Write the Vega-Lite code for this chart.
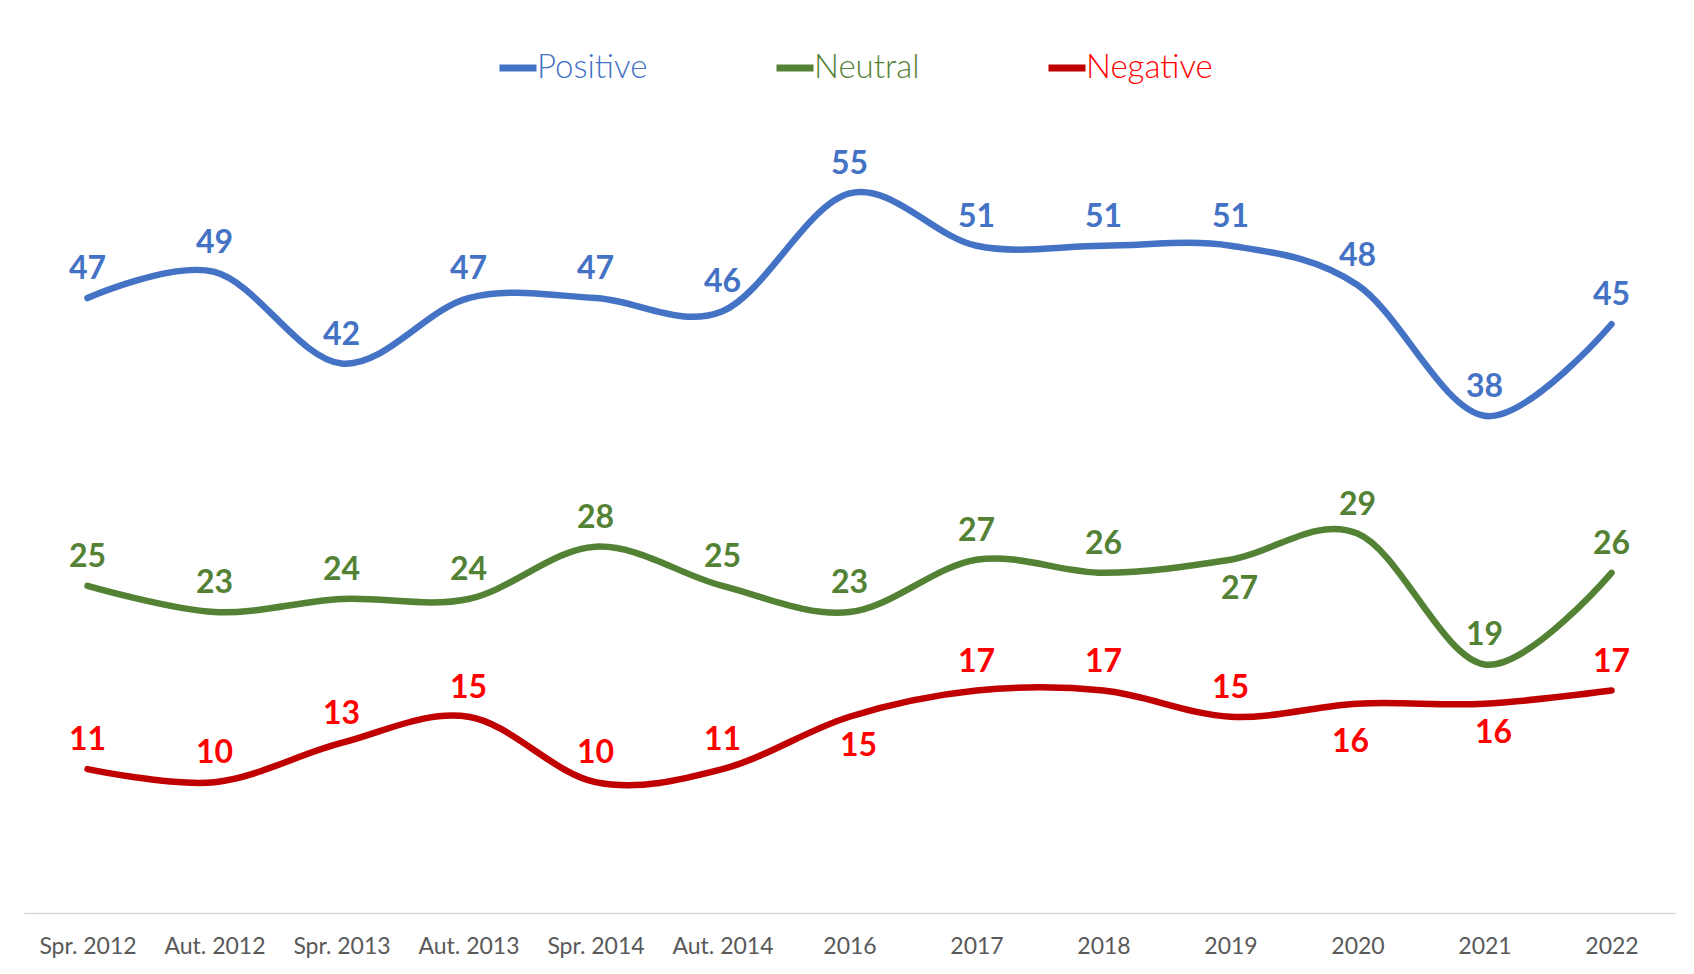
{
  "$schema": "https://vega.github.io/schema/vega-lite/v6.json",
  "width": 1651,
  "height": 785,
  "autosize": {"type": "none"},
  "padding": {"left": 24, "top": 128, "right": 19, "bottom": 61},
  "background": "white",
  "config": {
    "view": {"stroke": null},
    "font": "Lato"
  },
  "data": {
    "values": [
      {"period": "Spr. 2012", "series": "Positive", "value": 47},
      {"period": "Aut. 2012", "series": "Positive", "value": 49},
      {"period": "Spr. 2013", "series": "Positive", "value": 42},
      {"period": "Aut. 2013", "series": "Positive", "value": 47},
      {"period": "Spr. 2014", "series": "Positive", "value": 47},
      {"period": "Aut. 2014", "series": "Positive", "value": 46},
      {"period": "2016", "series": "Positive", "value": 55},
      {"period": "2017", "series": "Positive", "value": 51},
      {"period": "2018", "series": "Positive", "value": 51},
      {"period": "2019", "series": "Positive", "value": 51},
      {"period": "2020", "series": "Positive", "value": 48},
      {"period": "2021", "series": "Positive", "value": 38},
      {"period": "2022", "series": "Positive", "value": 45},
      {"period": "Spr. 2012", "series": "Neutral", "value": 25},
      {"period": "Aut. 2012", "series": "Neutral", "value": 23},
      {"period": "Spr. 2013", "series": "Neutral", "value": 24},
      {"period": "Aut. 2013", "series": "Neutral", "value": 24},
      {"period": "Spr. 2014", "series": "Neutral", "value": 28},
      {"period": "Aut. 2014", "series": "Neutral", "value": 25},
      {"period": "2016", "series": "Neutral", "value": 23},
      {"period": "2017", "series": "Neutral", "value": 27},
      {"period": "2018", "series": "Neutral", "value": 26},
      {"period": "2019", "series": "Neutral", "value": 27},
      {"period": "2020", "series": "Neutral", "value": 29},
      {"period": "2021", "series": "Neutral", "value": 19},
      {"period": "2022", "series": "Neutral", "value": 26},
      {"period": "Spr. 2012", "series": "Negative", "value": 11},
      {"period": "Aut. 2012", "series": "Negative", "value": 10},
      {"period": "Spr. 2013", "series": "Negative", "value": 13},
      {"period": "Aut. 2013", "series": "Negative", "value": 15},
      {"period": "Spr. 2014", "series": "Negative", "value": 10},
      {"period": "Aut. 2014", "series": "Negative", "value": 11},
      {"period": "2016", "series": "Negative", "value": 15},
      {"period": "2017", "series": "Negative", "value": 17},
      {"period": "2018", "series": "Negative", "value": 17},
      {"period": "2019", "series": "Negative", "value": 15},
      {"period": "2020", "series": "Negative", "value": 16},
      {"period": "2021", "series": "Negative", "value": 16},
      {"period": "2022", "series": "Negative", "value": 17}
    ]
  },
  "encoding": {
    "x": {
      "field": "period",
      "type": "ordinal",
      "sort": null,
      "scale": {"type": "point", "padding": 0.5},
      "axis": {
        "title": null,
        "labelAngle": 0,
        "ticks": false,
        "domainColor": "#D9D9D9",
        "domainWidth": 1.5,
        "labelColor": "#595959",
        "labelFont": "Lato",
        "labelFontSize": 23,
        "labelPadding": 22,
        "grid": false
      }
    },
    "y": {
      "field": "value",
      "type": "quantitative",
      "scale": {"domain": [0, 60], "nice": false},
      "axis": null
    }
  },
  "resolve": {"scale": {"color": "independent"}},
  "layer": [
    {
      "mark": {"type": "line", "interpolate": "cardinal", "tension": 0, "strokeWidth": 6.5, "strokeCap": "round", "strokeJoin": "round"},
      "encoding": {
        "color": {
          "field": "series",
          "type": "nominal",
          "sort": ["Positive", "Neutral", "Negative"],
          "scale": {"domain": ["Positive", "Neutral", "Negative"], "range": ["#4472C4", "#548235", "#C00000"]},
          "legend": {
            "title": null,
            "orient": "none",
            "direction": "horizontal",
            "legendX": 472,
            "legendY": -82,
            "symbolType": "stroke",
            "symbolStrokeWidth": 7,
            "symbolSize": 1369,
            "labelFont": "Lato",
            "labelFontSize": 33,
            "labelFontWeight": 300,
            "labelOffset": -3,
            "columnPadding": 114,
            "labelLimit": 300,
            "encode": {
              "labels": {
                "update": {
                  "fill": {"signal": "datum.label == 'Positive' ? '#4472C4' : datum.label == 'Neutral' ? '#548235' : '#FF0000'"}
                }
              }
            }
          }
        }
      }
    },
    {
      "transform": [
        {"filter": "!((datum.series == 'Neutral' && datum.period == '2019') || (datum.series == 'Negative' && (datum.period == '2016' || datum.period == '2020' || datum.period == '2021')))"}
      ],
      "mark": {"type": "text", "font": "Lato", "fontWeight": "bold", "fontSize": 32, "baseline": "middle", "dy": -29},
      "encoding": {
        "text": {"field": "value", "type": "quantitative"},
        "color": {
          "field": "series",
          "type": "nominal",
          "scale": {"domain": ["Positive", "Neutral", "Negative"], "range": ["#4472C4", "#548235", "#FF0000"]},
          "legend": null
        }
      }
    },
    {
      "transform": [
        {"filter": "(datum.series == 'Neutral' && datum.period == '2019') || (datum.series == 'Negative' && (datum.period == '2016' || datum.period == '2021'))"}
      ],
      "mark": {"type": "text", "font": "Lato", "fontWeight": "bold", "fontSize": 32, "baseline": "middle", "dy": 29, "dx": 9},
      "encoding": {
        "text": {"field": "value", "type": "quantitative"},
        "color": {
          "field": "series",
          "type": "nominal",
          "scale": {"domain": ["Positive", "Neutral", "Negative"], "range": ["#4472C4", "#548235", "#FF0000"]},
          "legend": null
        }
      }
    },
    {
      "transform": [
        {"filter": "datum.series == 'Negative' && datum.period == '2020'"}
      ],
      "mark": {"type": "text", "font": "Lato", "fontWeight": "bold", "fontSize": 32, "baseline": "middle", "dy": 38, "dx": -7},
      "encoding": {
        "text": {"field": "value", "type": "quantitative"},
        "color": {
          "field": "series",
          "type": "nominal",
          "scale": {"domain": ["Positive", "Neutral", "Negative"], "range": ["#4472C4", "#548235", "#FF0000"]},
          "legend": null
        }
      }
    }
  ]
}
